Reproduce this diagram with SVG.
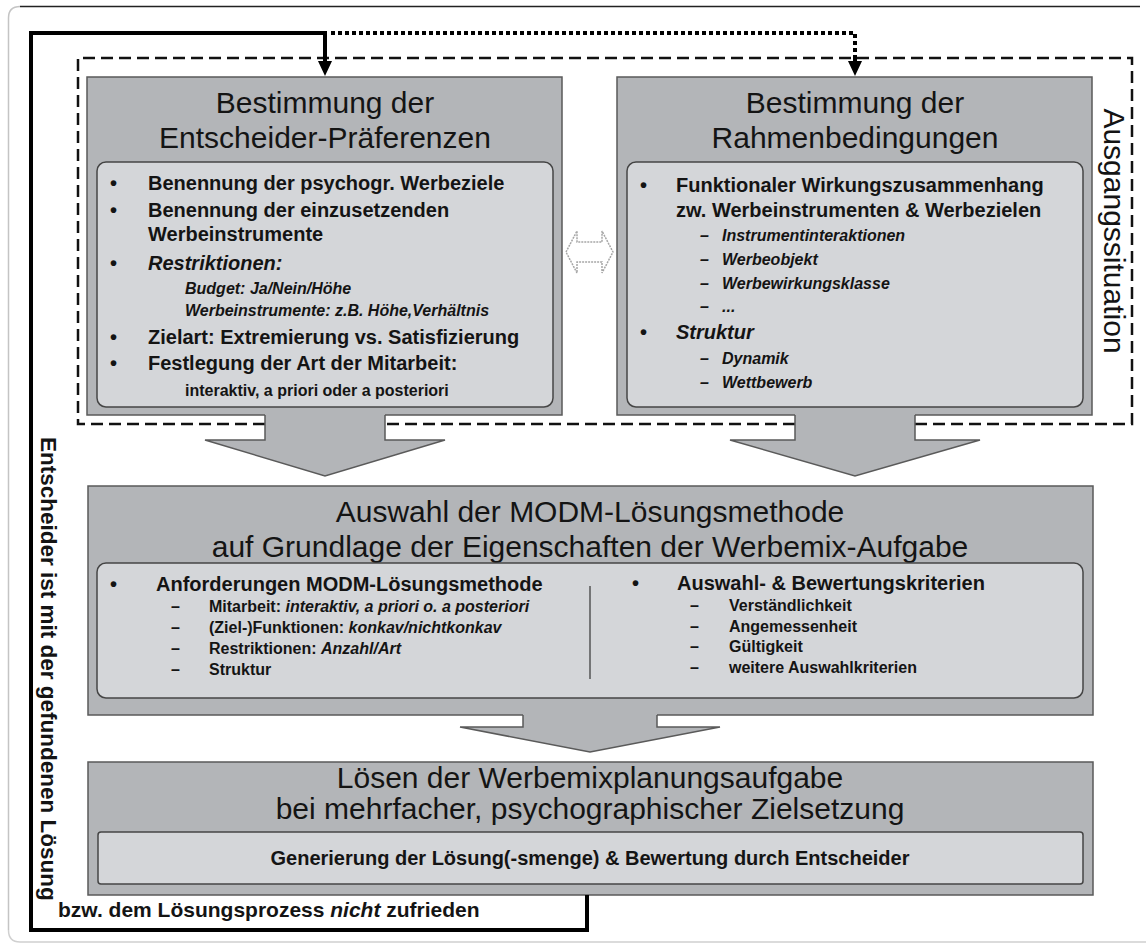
<svg xmlns="http://www.w3.org/2000/svg" width="1146" height="944" viewBox="0 0 1146 944">
  <style>
    text { font-family: "Liberation Sans", Arial, sans-serif; fill: #141414; }
    .box { fill: #b3b5b8; stroke: #5a5a5a; stroke-width: 1.5; }
    .inner { fill: #d4d6d9; stroke: #454545; stroke-width: 1.5; }
    .blk { fill: #b3b5b8; stroke: none; }
    .blkline { fill: none; stroke: #5a5a5a; stroke-width: 1.5; }
    .title { font-size: 30px; text-anchor: middle; }
    .b20 { font-size: 20px; font-weight: bold; }
    .b16 { font-size: 16px; font-weight: bold; }
    .it { font-style: italic; }
    .loop { fill: none; stroke: #000; stroke-width: 4; }
    .dots { fill: none; stroke: #000; stroke-width: 4; stroke-dasharray: 4 3; }
    .dash { fill: none; stroke: #111; stroke-width: 2.5; stroke-dasharray: 12 6; }
  </style>
  <defs>
    <!-- arrowhead drawn along +x so orient="auto" follows the line -->
    <marker id="head" viewBox="0 0 15 14" refX="1" refY="7" markerWidth="15" markerHeight="14" markerUnits="userSpaceOnUse" orient="auto">
      <path d="M0,0 L15,7 L0,14 Z" fill="#000"/>
    </marker>
  </defs>

  <!-- sheet frame -->
  <path d="M8.5,930 V18 Q8.5,6.5 20,6.5" fill="none" stroke="#c4c4c4" stroke-width="1.5"/>
  <path d="M20,6.5 H1140" fill="none" stroke="#222" stroke-width="1.5"/>
  <path d="M8.5,930 Q8.5,942 20,942 H1146" fill="none" stroke="#d0d0d0" stroke-width="1.5"/>

  <!-- Ausgangssituation frame -->
  <g id="ausgangssituation">
    <path class="dash" d="M265,424 H78 V58 H1132 V424 H915"/>
    <path class="dash" d="M795,424 H385"/>
    <text class="title" transform="translate(1104,231) rotate(90)">Ausgangssituation</text>
  </g>

  <!-- box 1: decision maker preferences -->
  <g id="praeferenzen">
    <rect class="box" x="87" y="77" width="475" height="338"/>
    <text class="title" x="325" y="113">Bestimmung der</text>
    <text class="title" x="325" y="148">Entscheider-Präferenzen</text>
    <rect class="inner" x="97" y="162" width="456" height="245" rx="9"/>
    <text class="b20" x="110" y="190">•</text>
    <text class="b20" x="148" y="190">Benennung der psychogr. Werbeziele</text>
    <text class="b20" x="110" y="217">•</text>
    <text class="b20" x="148" y="217">Benennung der einzusetzenden</text>
    <text class="b20" x="148" y="241">Werbeinstrumente</text>
    <text class="b20" x="110" y="270">•</text>
    <text class="b20 it" x="148" y="270">Restriktionen:</text>
    <text class="b16 it" x="185" y="294">Budget: Ja/Nein/Höhe</text>
    <text class="b16 it" x="185" y="316">Werbeinstrumente: z.B. Höhe,Verhältnis</text>
    <text class="b20" x="110" y="344">•</text>
    <text class="b20" x="148" y="344">Zielart: Extremierung vs. Satisfizierung</text>
    <text class="b20" x="110" y="370">•</text>
    <text class="b20" x="148" y="370">Festlegung der Art der Mitarbeit:</text>
    <text class="b16" x="185" y="396">interaktiv, a priori oder a posteriori</text>
  </g>

  <!-- box 2: framework conditions -->
  <g id="rahmenbedingungen">
    <rect class="box" x="617" y="77" width="475" height="338"/>
    <text class="title" x="855" y="113">Bestimmung der</text>
    <text class="title" x="855" y="148">Rahmenbedingungen</text>
    <rect class="inner" x="627" y="162" width="456" height="245" rx="9"/>
    <text class="b20" x="640" y="192">•</text>
    <text class="b20" x="676" y="192">Funktionaler Wirkungszusammenhang</text>
    <text class="b20" x="676" y="217">zw. Werbeinstrumenten &amp; Werbezielen</text>
    <text class="b16 it" x="700" y="241">–</text>
    <text class="b16 it" x="722" y="241">Instrumentinteraktionen</text>
    <text class="b16 it" x="700" y="265">–</text>
    <text class="b16 it" x="722" y="265">Werbeobjekt</text>
    <text class="b16 it" x="700" y="289">–</text>
    <text class="b16 it" x="722" y="289">Werbewirkungsklasse</text>
    <text class="b16 it" x="700" y="312">–</text>
    <text class="b16 it" x="722" y="312">...</text>
    <text class="b20" x="640" y="339">•</text>
    <text class="b20 it" x="676" y="339">Struktur</text>
    <text class="b16 it" x="700" y="364">–</text>
    <text class="b16 it" x="722" y="364">Dynamik</text>
    <text class="b16 it" x="700" y="388">–</text>
    <text class="b16 it" x="722" y="388">Wettbewerb</text>
  </g>

  <!-- box 3: choice of MODM method -->
  <g id="auswahl">
    <rect class="box" x="88" y="486" width="1005" height="229"/>
    <text class="title" x="590" y="522">Auswahl der MODM-Lösungsmethode</text>
    <text class="title" x="590" y="557">auf Grundlage der Eigenschaften der Werbemix-Aufgabe</text>
    <rect class="inner" x="97" y="563" width="986" height="135" rx="9"/>
    <text class="b20" x="110" y="591">•</text>
    <text class="b20" x="156" y="591">Anforderungen MODM-Lösungsmethode</text>
    <text class="b16" x="171" y="612">–</text>
    <text class="b16" x="209" y="612">Mitarbeit: <tspan class="it">interaktiv, a priori o. a posteriori</tspan></text>
    <text class="b16" x="171" y="633">–</text>
    <text class="b16" x="209" y="633">(Ziel-)Funktionen: <tspan class="it">konkav/nichtkonkav</tspan></text>
    <text class="b16" x="171" y="654">–</text>
    <text class="b16" x="209" y="654">Restriktionen: <tspan class="it">Anzahl/Art</tspan></text>
    <text class="b16" x="171" y="675">–</text>
    <text class="b16" x="209" y="675">Struktur</text>
    <line x1="590" y1="586" x2="590" y2="679" stroke="#555" stroke-width="1.5"/>
    <text class="b20" x="632" y="590">•</text>
    <text class="b20" x="677" y="590">Auswahl- &amp; Bewertungskriterien</text>
    <text class="b16" x="690" y="611">–</text>
    <text class="b16" x="729" y="611">Verständlichkeit</text>
    <text class="b16" x="690" y="632">–</text>
    <text class="b16" x="729" y="632">Angemessenheit</text>
    <text class="b16" x="690" y="652">–</text>
    <text class="b16" x="729" y="652">Gültigkeit</text>
    <text class="b16" x="690" y="673">–</text>
    <text class="b16" x="729" y="673">weitere Auswahlkriterien</text>
  </g>

  <!-- box 4: solving the task -->
  <g id="loesen">
    <rect class="box" x="88" y="762" width="1005" height="133"/>
    <text class="title" x="590" y="788">Lösen der Werbemixplanungsaufgabe</text>
    <text class="title" x="590" y="819">bei mehrfacher, psychographischer Zielsetzung</text>
    <rect class="inner" x="98" y="832" width="985" height="52" rx="3"/>
    <text class="b20" x="590" y="865" text-anchor="middle">Generierung der Lösung(-smenge) &amp; Bewertung durch Entscheider</text>
  </g>

  <!-- connectors -->
  <g id="connectors">
    <!-- block arrows between the stages -->
    <polygon class="blk" points="265,414 385,414 385,440 445,440 325,476 205,440 265,440"/>
    <path class="blkline" d="M265,415 V440 H205 L325,476 L445,440 H385 V415"/>
    <polygon class="blk" points="795,414 915,414 915,440 980,440 855,476 730,440 795,440"/>
    <path class="blkline" d="M795,415 V440 H730 L855,476 L980,440 H915 V415"/>
    <polygon class="blk" points="523,714 657,714 657,727 720,727 590,752 460,727 523,727"/>
    <path class="blkline" d="M523,715 V727 H460 L590,752 L720,727 H657 V715"/>

    <!-- mutual dependency -->
    <path d="M566,252 L577,231 V242 H602 V231 L613,252 L602,273 V262 H577 V273 Z" fill="#fff" stroke="#a6a6a6" stroke-width="1.5" stroke-dasharray="2 1"/>

    <!-- feedback loop -->
    <path class="loop" d="M587,895 V930 H31 V33 H325 V62" marker-end="url(#head)"/>
    <path class="dots" d="M331,33 H855 V62" marker-end="url(#head)"/>
    <path d="M855,59 V63" stroke="#000" stroke-width="4"/>
    <text class="b20" style="font-size:22.5px" transform="translate(41,437) rotate(90)">Entscheider ist mit der gefundenen Lösung</text>
    <text class="b20" style="font-size:21px" x="58" y="917">bzw. dem Lösungsprozess <tspan class="it">nicht</tspan> zufrieden</text>
  </g>
</svg>
